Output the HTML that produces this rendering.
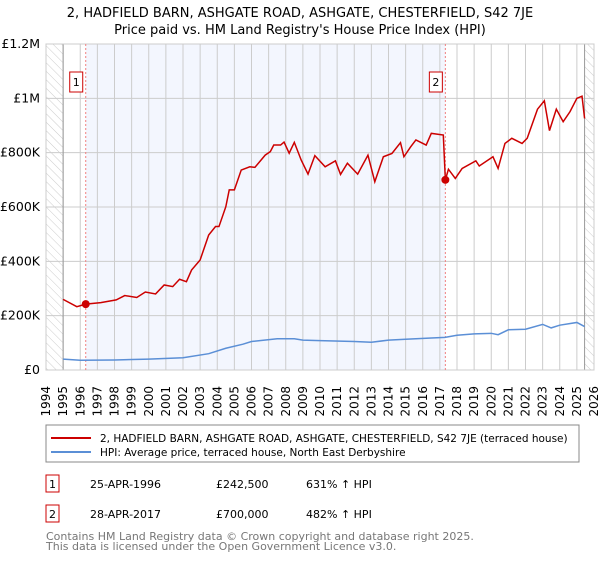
<!DOCTYPE html>
<html><head><meta charset="utf-8"><style>
body{margin:0;background:#fff;font-family:"DejaVu Sans","Liberation Sans",sans-serif;}
svg text{font-family:"DejaVu Sans","Liberation Sans",sans-serif;}
</style></head><body>
<svg id="c" width="600" height="560" xmlns="http://www.w3.org/2000/svg">
<defs><pattern id="h" width="6" height="6" patternUnits="userSpaceOnUse" patternTransform="rotate(-45)"><line x1="0" y1="0" x2="0" y2="6" stroke="#ccc" stroke-width="1"/></pattern></defs>
<text x="300" y="17" text-anchor="middle" font-size="13">2, HADFIELD BARN, ASHGATE ROAD, ASHGATE, CHESTERFIELD, S42 7JE</text>
<text x="300" y="34" text-anchor="middle" font-size="13">Price paid vs. HM Land Registry's House Price Index (HPI)</text>
<g id="plot"></g>
<g>
<rect x="46" y="425" width="533" height="37" fill="#fff" stroke="#888"/>
<line x1="51" y1="438" x2="91" y2="438" stroke="#cc0000" stroke-width="2"/>
<text x="100" y="442" font-size="10.5">2, HADFIELD BARN, ASHGATE ROAD, ASHGATE, CHESTERFIELD, S42 7JE (terraced house)</text>
<line x1="51" y1="452" x2="91" y2="452" stroke="#5b8fd6" stroke-width="2"/>
<text x="100" y="456" font-size="10.5">HPI: Average price, terraced house, North East Derbyshire</text>
</g>
<g font-size="11">
<rect x="46" y="475" width="13" height="17" fill="none" stroke="#cc0000"/><text x="52.5" y="488" text-anchor="middle">1</text>
<text x="90" y="488">25-APR-1996</text><text x="216" y="488">£242,500</text><text x="306" y="488">631% ↑ HPI</text>
<rect x="46" y="505" width="13" height="17" fill="none" stroke="#cc0000"/><text x="52.5" y="518" text-anchor="middle">2</text>
<text x="90" y="518">28-APR-2017</text><text x="216" y="518">£700,000</text><text x="306" y="518">482% ↑ HPI</text>
</g>
<text x="46" y="540" font-size="11" fill="#777">Contains HM Land Registry data © Crown copyright and database right 2025.</text>
<text x="46" y="550" font-size="11" fill="#777">This data is licensed under the Open Government Licence v3.0.</text>
</svg>
<script>
const redYears=[1995.0,1995.8,1996.32,1997.2,1998.1,1998.6,1999.3,1999.8,2000.4,2000.9,2001.4,2001.8,2002.2,2002.5,2003.0,2003.5,2003.9,2004.1,2004.5,2004.7,2005.0,2005.4,2005.9,2006.2,2006.8,2007.1,2007.3,2007.7,2007.9,2008.2,2008.5,2008.9,2009.3,2009.7,2010.3,2010.9,2011.2,2011.6,2012.2,2012.8,2013.2,2013.7,2014.2,2014.7,2014.9,2015.3,2015.6,2016.2,2016.5,2017.2,2017.32,2017.5,2017.9,2018.3,2019.1,2019.3,2020.1,2020.4,2020.8,2021.2,2021.8,2022.1,2022.7,2023.1,2023.4,2023.8,2024.2,2024.6,2025.0,2025.3,2025.45];
const redValues=[260,233,242.5,248,258,274,267,287,280,313,307,334,325,368,405,497,528,528,601,663,663,736,748,746,791,804,828,828,839,798,838,773,721,789,748,770,720,761,721,791,693,785,797,837,785,822,847,828,871,865,700,739,705,742,770,751,785,742,834,853,834,853,960,991,881,960,914,951,1000,1008,926];
const hpiYears=[1995,1996,1998,2000,2002,2003.5,2004.5,2005.5,2006,2007.5,2008.5,2009,2010,2012,2013,2014,2015,2016.5,2017.3,2018,2019,2020,2020.4,2021,2022,2023,2023.5,2024,2025,2025.45];
const hpiValues=[40,36,37,40,45,60,80,95,105,115,115,110,108,105,102,110,113,118,120,128,133,135,130,148,150,168,155,165,175,160];
const yTicks=[0,200,400,600,800,1000,1200];
const yTickLabels=["£0","£200K","£400K","£600K","£800K","£1M","£1.2M"];
const sales=[{n:"1",year:1996.32,v:242.5},{n:"2",year:2017.32,v:700}];
const X0=46,X1=594,Y0=370,Y1=44,yr0=1994,yr1=2026;
const x=y=>X0+(y-yr0)/(yr1-yr0)*(X1-X0);
const yv=v=>Y0-v/1200*(Y0-Y1);
const NS="http://www.w3.org/2000/svg";
const g=document.getElementById('plot');
function mk(t,a,p){const e=document.createElementNS(NS,t);for(const k in a)e.setAttribute(k,a[k]);(p||g).appendChild(e);return e;}
let e;
e=mk('rect',{x:X0,y:Y1,width:X1-X0,height:Y0-Y1,fill:'#fff'});
e=mk('rect',{x:x(sales[0].year),y:Y1,width:x(sales[1].year)-x(sales[0].year),height:Y0-Y1,fill:'#f3f6fe'});


e=mk('rect',{x:X0,y:Y1,width:x(1995)-X0,height:Y0-Y1,fill:'url(#h)'});


e=mk('rect',{x:x(2025.45),y:Y1,width:X1-x(2025.45),height:Y0-Y1,fill:'url(#h)'});


for(let yr=yr0;yr<=yr1;yr++){
 e=mk('line',{x1:x(yr),x2:x(yr),y1:Y1,y2:Y0,stroke:'#ccc'});
 e=mk('text',{transform:`translate(${x(yr)+4},${Y0+16}) rotate(-90)`,'font-size':'12','text-anchor':'end'});
 e.textContent=yr;
 
 
}
yTicks.forEach((t,i)=>{
 e=mk('line',{x1:X0,x2:X1,y1:yv(t),y2:yv(t),stroke:'#ccc'});
 e=mk('text',{x:X0-6,y:yv(t)+4,'font-size':'12.5','text-anchor':'end'});
 e.textContent=yTickLabels[i];
 
 
});
e=mk('line',{x1:x(1995),x2:x(1995),y1:Y1,y2:Y0,stroke:'#999'});
e=mk('line',{x1:x(2025.45),x2:x(2025.45),y1:Y1,y2:Y0,stroke:'#999'});
e=mk('rect',{x:X0,y:Y1,width:X1-X0,height:Y0-Y1,fill:'none',stroke:'#ccc'});
sales.forEach(s=>{
 e=mk('line',{x1:x(s.year),x2:x(s.year),y1:Y1,y2:Y0,stroke:'#f08080','stroke-dasharray':'2,2'});
});
e=mk('polyline',{points:hpiYears.map((yr,i)=>x(yr)+','+yv(hpiValues[i])).join(' '),fill:'none',stroke:'#5b8fd6','stroke-width':'1.5'});


e=mk('polyline',{points:redYears.map((yr,i)=>x(yr)+','+yv(redValues[i])).join(' '),fill:'none',stroke:'#cc0000','stroke-width':'1.5'});


sales.forEach(s=>{
 e=mk('circle',{cx:x(s.year),cy:yv(s.v),r:4,fill:'#cc0000'});
 
 
 e=mk('rect',{x:x(s.year)-16,y:72,width:13,height:20,fill:'#fff',stroke:'#cc0000'});
 
 
 e=mk('text',{x:x(s.year)-9.5,y:86,'font-size':'11','text-anchor':'middle'});
 e.textContent=s.n;
});
</script>
</body></html>
